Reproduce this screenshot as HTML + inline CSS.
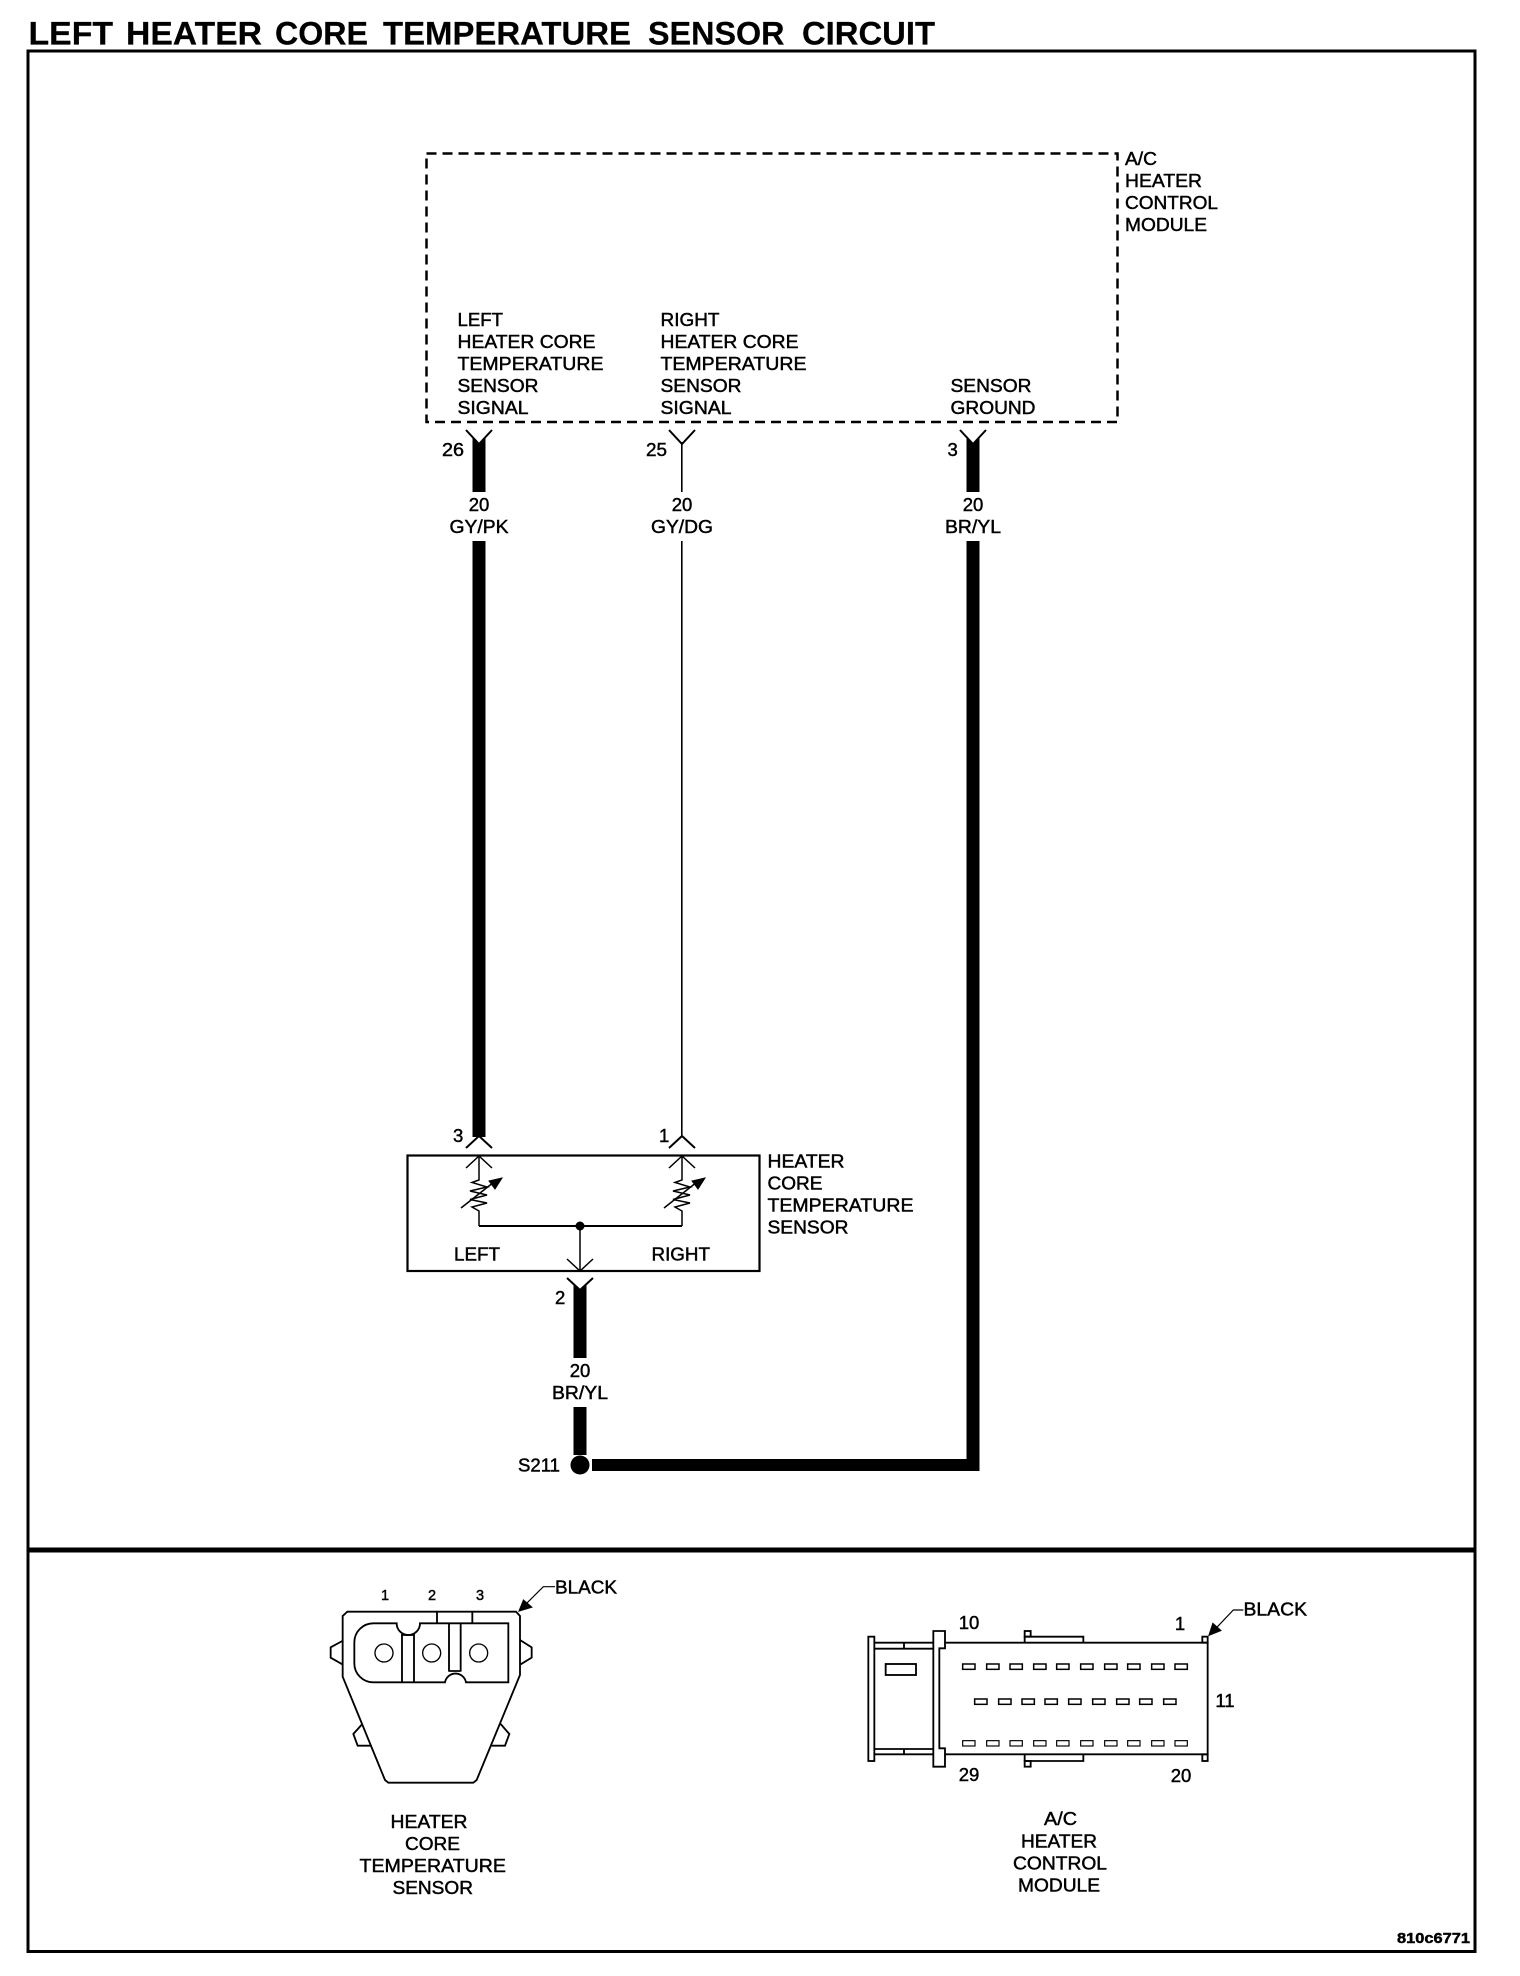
<!DOCTYPE html>
<html><head><meta charset="utf-8"><title>Left Heater Core Temperature Sensor Circuit</title>
<style>
html,body{margin:0;padding:0;background:#fff}
svg{display:block}
text{font-family:"Liberation Sans",Arial,sans-serif;font-size:18px;fill:#000;stroke:#000;stroke-width:.45px}
.c{text-anchor:middle}
.n{font-size:18.500px}
.h{font-size:32px;font-weight:bold;stroke-width:.2px}
</style></head><body>
<svg xmlns="http://www.w3.org/2000/svg" width="1520" height="1976" viewBox="0 0 1520 1976">
<rect width="1520" height="1976" fill="#fff"/>
<text class="h" x="28.500" y="44.500" textLength="84.500" lengthAdjust="spacingAndGlyphs">LEFT</text>
<text class="h" x="126" y="44.500" textLength="136" lengthAdjust="spacingAndGlyphs">HEATER</text>
<text class="h" x="275" y="44.500" textLength="93" lengthAdjust="spacingAndGlyphs">CORE</text>
<text class="h" x="383" y="44.500" textLength="248" lengthAdjust="spacingAndGlyphs">TEMPERATURE</text>
<text class="h" x="648" y="44.500" textLength="136.500" lengthAdjust="spacingAndGlyphs">SENSOR</text>
<text class="h" x="802" y="44.500" textLength="133" lengthAdjust="spacingAndGlyphs">CIRCUIT</text>
<rect x="28" y="51" width="1447" height="1900.500" fill="none" stroke="#000" stroke-width="3"/>
<rect x="28" y="1547.500" width="1447" height="5" fill="#000"/>

<!-- module box -->
<rect x="426.500" y="153.500" width="691" height="268.500" fill="none" stroke="#000" stroke-width="2.500" stroke-dasharray="10 6"/>
<text x="1125" y="165" textLength="32" lengthAdjust="spacingAndGlyphs">A/C</text>
<text x="1125" y="187" textLength="77" lengthAdjust="spacingAndGlyphs">HEATER</text>
<text x="1125" y="209" textLength="93" lengthAdjust="spacingAndGlyphs">CONTROL</text>
<text x="1125" y="231" textLength="82" lengthAdjust="spacingAndGlyphs">MODULE</text>

<text x="457.500" y="326" textLength="45.500" lengthAdjust="spacingAndGlyphs">LEFT</text>
<text x="457.500" y="348" textLength="138" lengthAdjust="spacingAndGlyphs">HEATER CORE</text>
<text x="457.500" y="370" textLength="146" lengthAdjust="spacingAndGlyphs">TEMPERATURE</text>
<text x="457.500" y="392" textLength="81" lengthAdjust="spacingAndGlyphs">SENSOR</text>
<text x="457.500" y="414" textLength="71" lengthAdjust="spacingAndGlyphs">SIGNAL</text>

<text x="660.500" y="326" textLength="59" lengthAdjust="spacingAndGlyphs">RIGHT</text>
<text x="660.500" y="348" textLength="138" lengthAdjust="spacingAndGlyphs">HEATER CORE</text>
<text x="660.500" y="370" textLength="146" lengthAdjust="spacingAndGlyphs">TEMPERATURE</text>
<text x="660.500" y="392" textLength="81" lengthAdjust="spacingAndGlyphs">SENSOR</text>
<text x="660.500" y="414" textLength="71" lengthAdjust="spacingAndGlyphs">SIGNAL</text>

<text x="950.500" y="392" textLength="81" lengthAdjust="spacingAndGlyphs">SENSOR</text>
<text x="950.500" y="414" textLength="85" lengthAdjust="spacingAndGlyphs">GROUND</text>

<!-- wires -->
<g fill="#000">
<path d="M472.500 437L479 443L485.500 437V492H472.500Z"/>
<rect x="472.500" y="541" width="13" height="596"/>
<path d="M966.500 437L973 443L979.500 437V492H966.500Z"/>
<rect x="966.500" y="541" width="13" height="930"/>
<rect x="592" y="1459" width="387" height="12"/>
<path d="M573.500 1283L580 1289L586.500 1283V1358H573.500Z"/>
<rect x="573.500" y="1407" width="13" height="48"/>
<rect x="681" y="442" width="1.600" height="50"/>
<rect x="681" y="541" width="1.600" height="595"/>
<circle cx="580" cy="1465" r="9.500"/>
</g>
<g fill="none" stroke="#000" stroke-width="2">
<path d="M466 430L479 444L492 430"/>
<path d="M669 430L682 444L695 430"/>
<path d="M960 430L973 444L986 430"/>
<path d="M466 1148L479 1136L492 1148"/>
<path d="M669 1148L682 1136L695 1148"/>
<path d="M567 1278L580 1290L593 1278"/>
</g>

<text class="n" x="442" y="456" textLength="22" lengthAdjust="spacingAndGlyphs">26</text>
<text class="n" x="646" y="456" textLength="21" lengthAdjust="spacingAndGlyphs">25</text>
<text class="n" x="947.500" y="456">3</text>
<text class="c n" x="479" y="511">20</text>
<text class="c n" x="682" y="511">20</text>
<text class="c n" x="973" y="511">20</text>
<text class="c" x="479" y="533" textLength="59" lengthAdjust="spacingAndGlyphs">GY/PK</text>
<text class="c" x="682" y="533" textLength="62" lengthAdjust="spacingAndGlyphs">GY/DG</text>
<text class="c" x="973" y="533" textLength="56" lengthAdjust="spacingAndGlyphs">BR/YL</text>

<!-- sensor box -->
<text class="n" x="453" y="1142">3</text>
<text class="n" x="659" y="1142">1</text>
<rect x="407.500" y="1155.500" width="352" height="115.500" fill="none" stroke="#000" stroke-width="2.200"/>
<text x="767.500" y="1167.500" textLength="77" lengthAdjust="spacingAndGlyphs">HEATER</text>
<text x="767.500" y="1189.500" textLength="55" lengthAdjust="spacingAndGlyphs">CORE</text>
<text x="767.500" y="1211.500" textLength="146" lengthAdjust="spacingAndGlyphs">TEMPERATURE</text>
<text x="767.500" y="1233.500" textLength="81" lengthAdjust="spacingAndGlyphs">SENSOR</text>
<text x="454" y="1260.500" textLength="46" lengthAdjust="spacingAndGlyphs">LEFT</text>
<text x="651.500" y="1260.500" textLength="58.500" lengthAdjust="spacingAndGlyphs">RIGHT</text>

<g fill="none" stroke="#000" stroke-width="1.500">
<path d="M466 1168L479 1156L492 1168M669 1168L682 1156L695 1168"/>
<path d="M567 1259L580 1271L593 1259"/>
<path d="M580 1226V1271"/>
<path d="M479 1156V1180L472 1182.500L487 1187L470 1191L487 1195L470 1199.500L487 1203L472 1207L479 1211V1226"/>
<path d="M682 1156V1180L675 1182.500L690 1187L673 1191L690 1195L673 1199.500L690 1203L675 1207L682 1211V1226"/>
<path d="M461 1208L494 1182"/>
<path d="M664 1208L697 1182"/>
</g>
<path d="M479 1226H682" stroke="#000" stroke-width="2" fill="none"/>
<path d="M489 1181L502 1178L495 1189ZM692 1181L705 1178L698 1189Z" fill="#000" stroke="#000"/>
<circle cx="580" cy="1226" r="4.500" fill="#000"/>

<text class="n" x="555" y="1304">2</text>
<text class="c n" x="580" y="1377">20</text>
<text class="c" x="580" y="1399" textLength="56" lengthAdjust="spacingAndGlyphs">BR/YL</text>
<text x="518" y="1471.500" textLength="42" lengthAdjust="spacingAndGlyphs">S211</text>

<!-- connector 1 -->
<g transform="translate(310,1560) scale(.33333)" fill="none" stroke="#000" stroke-width="5.500">
<path d="M112 155H618L630 168V345L500 660L490 668H235L225 660L98 350V168Z"/>
<path d="M97 243L62 262V293L97 313M630 240L665 262V293L632 313"/>
<path d="M157 492L130 522L143 557H183M572 492L598 522L585 557H545"/>
<path d="M260 190H190A57 57 0 0 0 133 247V310A57 57 0 0 0 190 367H405A32 32 0 0 1 468 367H595V190H330A35 35 0 0 1 260 190Z"/>
<path d="M276 222V367M312 222V367M276 225H312M417 190V335M452 190V335M417 333H452M381 155V190M487 155V190"/>
<circle cx="222" cy="279" r="27" stroke-width="4"/>
<circle cx="365" cy="279" r="27" stroke-width="4"/>
<circle cx="506" cy="279" r="27" stroke-width="4"/>
<path d="M735 80H700L650 130" stroke-width="3.500"/>
<path d="M625 155L640 118L668 142Z" fill="#000" stroke-width="1"/>
</g>
<text class="c" x="385" y="1600" style="font-size:14.500px">1</text>
<text class="c" x="432" y="1600" style="font-size:14.500px">2</text>
<text class="c" x="480" y="1600" style="font-size:14.500px">3</text>
<text x="555" y="1593.500" textLength="62" lengthAdjust="spacingAndGlyphs">BLACK</text>

<text x="390.500" y="1828" textLength="77" lengthAdjust="spacingAndGlyphs">HEATER</text>
<text x="405" y="1850" textLength="55" lengthAdjust="spacingAndGlyphs">CORE</text>
<text x="359.500" y="1872" textLength="146.500" lengthAdjust="spacingAndGlyphs">TEMPERATURE</text>
<text x="392.500" y="1894" textLength="80.500" lengthAdjust="spacingAndGlyphs">SENSOR</text>

<!-- connector 2 -->
<g transform="translate(850,1570) scale(.33333)" fill="none" stroke="#000" stroke-width="5.500">
<path d="M285 218H1073V553H285"/>
<path d="M250 183H285V235H268V535H285V590H250Z"/>
<rect x="55" y="200" width="18" height="373"/>
<path d="M73 218H248M73 236H248M73 537H248M73 553H248M162 218V236M162 537V553"/>
<rect x="107" y="282" width="91" height="33"/>
<rect x="524" y="183" width="18" height="17"/>
<rect x="524" y="573" width="18" height="17"/>
<path d="M524 218V200H700V216M524 553V573H700V555"/>
<rect x="1057" y="200" width="16" height="18"/>
<rect x="1057" y="553" width="16" height="20"/>
<g stroke-width="4.500">
<rect x="338" y="282" width="37" height="16"/><rect x="410" y="282" width="37" height="16"/><rect x="480" y="282" width="37" height="16"/><rect x="551" y="282" width="37" height="16"/><rect x="620" y="282" width="37" height="16"/><rect x="692" y="282" width="37" height="16"/><rect x="764" y="282" width="37" height="16"/><rect x="833" y="282" width="37" height="16"/><rect x="905" y="282" width="37" height="16"/><rect x="975" y="282" width="37" height="16"/>
<rect x="374" y="387" width="37" height="16"/><rect x="446" y="387" width="37" height="16"/><rect x="516" y="387" width="37" height="16"/><rect x="585" y="387" width="37" height="16"/><rect x="656" y="387" width="37" height="16"/><rect x="728" y="387" width="37" height="16"/><rect x="800" y="387" width="37" height="16"/><rect x="869" y="387" width="37" height="16"/><rect x="941" y="387" width="37" height="16"/>
</g>
<g stroke-width="3.500">
<rect x="338" y="512" width="37" height="16"/><rect x="410" y="512" width="37" height="16"/><rect x="480" y="512" width="37" height="16"/><rect x="551" y="512" width="37" height="16"/><rect x="620" y="512" width="37" height="16"/><rect x="692" y="512" width="37" height="16"/><rect x="764" y="512" width="37" height="16"/><rect x="833" y="512" width="37" height="16"/><rect x="905" y="512" width="37" height="16"/><rect x="975" y="512" width="37" height="16"/>
</g>
<path d="M1180 120H1150L1095 178" stroke-width="3.500"/>
<path d="M1075 198L1088 158L1115 182Z" fill="#000" stroke-width="1"/>
</g>
<text class="c n" x="969" y="1629">10</text>
<text class="c n" x="1180" y="1630">1</text>
<text class="c n" x="969" y="1781">29</text>
<text class="c n" x="1181" y="1782">20</text>
<text class="c n" x="1225" y="1707">11</text>
<text x="1243.500" y="1615.500" textLength="63.500" lengthAdjust="spacingAndGlyphs">BLACK</text>

<text x="1044" y="1825" textLength="33" lengthAdjust="spacingAndGlyphs">A/C</text>
<text x="1021" y="1847.500" textLength="76" lengthAdjust="spacingAndGlyphs">HEATER</text>
<text x="1013" y="1869.500" textLength="94" lengthAdjust="spacingAndGlyphs">CONTROL</text>
<text x="1018" y="1891.500" textLength="82" lengthAdjust="spacingAndGlyphs">MODULE</text>

<text x="1397" y="1943" textLength="73" lengthAdjust="spacingAndGlyphs" style="font-size:15px;font-weight:bold">810c6771</text>
</svg>
</body></html>
